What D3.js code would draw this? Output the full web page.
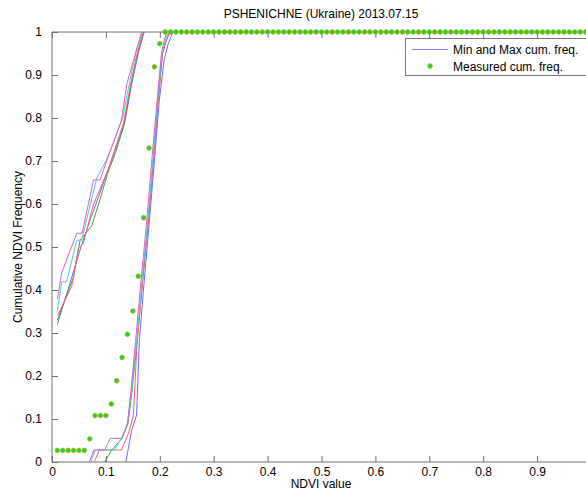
<!DOCTYPE html>
<html><head><meta charset="utf-8">
<script src="https://cdn.jsdelivr.net/npm/d3@7"></script>
<style>
html,body{margin:0;padding:0;background:#fff;overflow:hidden}
svg{display:block;font-family:"Liberation Sans",Arial,sans-serif}
</style></head>
<body>
<svg id="chart" width="586" height="492"></svg>
<script>
const title = "PSHENICHNE (Ukraine) 2013.07.15";
const xLabel = "NDVI value";
const yLabel = "Cumulative NDVI Frequency";
const legendLabels = ["Min and Max cum. freq.", "Measured cum. freq."];
const xTicks = [0,0.1,0.2,0.3,0.4,0.5,0.6,0.7,0.8,0.9];
const yTicks = [0,0.1,0.2,0.3,0.4,0.5,0.6,0.7,0.8,0.9,1];

// measured cumulative frequency at NDVI = 0.01 ... 1.00
const measuredX = d3.range(1,101).map(i => i/100);
const measuredY = [0.027,0.027,0.027,0.027,0.027,0.027,0.054,0.108,0.108,0.108,
  0.135,0.189,0.243,0.297,0.351,0.432,0.568,0.730,0.919,0.973].concat(new Array(80).fill(1));

const seriesNames = ["blue","green","red","cyan","magenta"];
const seriesColors = ["#6a6aff","#449f44","#ff6060","#4dcccc","#d862d8"];

// lower-bound group (left)
const minBlue    = [[0.01,0.32],[0.055,0.505],[0.07,0.56],[0.09,0.63],[0.11,0.70],[0.12,0.735],[0.135,0.79],[0.148,0.88],[0.16,0.95],[0.171,1]];
const minGreen   = [[0.01,0.33],[0.04,0.43],[0.052,0.515],[0.074,0.55],[0.089,0.61],[0.103,0.67],[0.118,0.72],[0.133,0.78],[0.147,0.88],[0.159,0.95],[0.17,1]];
const minRed     = [[0.01,0.34],[0.0365,0.408],[0.049,0.497],[0.058,0.508],[0.077,0.60],[0.086,0.625],[0.105,0.683],[0.12,0.74],[0.133,0.79],[0.146,0.88],[0.158,0.95],[0.169,1]];
const minCyan    = [[0.01,0.35],[0.018,0.419],[0.027,0.419],[0.046,0.516],[0.055,0.516],[0.083,0.66],[0.1,0.70],[0.115,0.745],[0.131,0.80],[0.145,0.89],[0.157,0.96],[0.168,1]];
const minMagenta = [[0.01,0.378],[0.018,0.44],[0.046,0.532],[0.056,0.532],[0.077,0.656],[0.089,0.656],[0.11,0.73],[0.129,0.795],[0.139,0.88],[0.155,0.95],[0.166,1]];

// upper-bound group (right)
const maxBlue    = [[0.137,0],[0.148,0.075],[0.157,0.109],[0.162,0.28],[0.171,0.42],[0.18,0.55],[0.19,0.70],[0.199,0.84],[0.208,0.935],[0.215,0.97],[0.224,1]];
const maxGreen   = [[0.098,0],[0.111,0.028],[0.13,0.055],[0.141,0.09],[0.148,0.16],[0.158,0.28],[0.168,0.42],[0.178,0.55],[0.188,0.70],[0.197,0.84],[0.205,0.95],[0.212,0.98],[0.219,1]];
const maxRed     = [[0.078,0],[0.088,0.028],[0.129,0.028],[0.142,0.067],[0.151,0.109],[0.158,0.28],[0.168,0.42],[0.178,0.55],[0.188,0.70],[0.197,0.84],[0.205,0.95],[0.212,0.98],[0.218,1]];
const maxCyan    = [[0.072,0],[0.08,0.028],[0.115,0.028],[0.129,0.055],[0.14,0.09],[0.147,0.16],[0.157,0.28],[0.167,0.42],[0.177,0.55],[0.187,0.70],[0.196,0.84],[0.204,0.95],[0.21,0.98],[0.216,1]];
const maxMagenta = [[0.069,0],[0.078,0.028],[0.098,0.028],[0.108,0.055],[0.129,0.055],[0.14,0.086],[0.146,0.16],[0.155,0.28],[0.165,0.42],[0.175,0.55],[0.185,0.70],[0.195,0.84],[0.203,0.95],[0.208,0.98],[0.213,1]];

const minSeries = [minBlue,minGreen,minRed,minCyan,minMagenta];
const maxSeries = [maxBlue,maxGreen,maxRed,maxCyan,maxMagenta];

const svg = d3.select("#chart");
const x = d3.scaleLinear().domain([0,1]).range([52,591]);
const y = d3.scaleLinear().domain([0,1]).range([462,32]);
const axisColor = "#6e6e6e";

// axes box lines
svg.append("line").attr("x1",52).attr("x2",591).attr("y1",462).attr("y2",462).attr("stroke",axisColor);
svg.append("line").attr("x1",52).attr("x2",591).attr("y1",32).attr("y2",32).attr("stroke",axisColor);
svg.append("line").attr("x1",52).attr("x2",52).attr("y1",32).attr("y2",462).attr("stroke",axisColor);

const fmt = d => d === 0 ? "0" : d === 1 ? "1" : d3.format(".1f")(d);

const xb = svg.append("g").attr("transform","translate(0,462)")
  .call(d3.axisBottom(x).tickValues(xTicks).tickFormat(fmt).tickSize(-6).tickPadding(5));
const xt = svg.append("g").attr("transform","translate(0,32)")
  .call(d3.axisTop(x).tickValues(xTicks).tickFormat("").tickSize(-6));
const yl = svg.append("g").attr("transform","translate(52,0)")
  .call(d3.axisLeft(y).tickValues(yTicks).tickFormat(fmt).tickSize(-6).tickPadding(10));
[xb,xt,yl].forEach(g => {
  g.select(".domain").remove();
  g.selectAll(".tick line").attr("stroke",axisColor);
  g.selectAll(".tick text").attr("fill","#000").style("font-size","12px").style("font-family","Liberation Sans, Arial, sans-serif");
});

const line = d3.line().x(d => x(d[0])).y(d => y(d[1]));
const plot = svg.append("g");
minSeries.forEach((s,i) => plot.append("path").attr("d",line(s)).attr("fill","none")
  .attr("stroke",seriesColors[i]).attr("stroke-width",1));
maxSeries.forEach((s,i) => plot.append("path").attr("d",line(s)).attr("fill","none")
  .attr("stroke",seriesColors[i]).attr("stroke-width",1));

plot.selectAll("circle.m").data(measuredX.map((v,i) => [v, measuredY[i]])).enter()
  .append("circle").attr("class","m")
  .attr("cx",d => x(d[0])).attr("cy",d => y(d[1])).attr("r",2.4)
  .attr("fill","#10e010").attr("stroke","#f09050").attr("stroke-width",0.7);

// title and labels
svg.append("text").attr("x",321).attr("y",18).attr("text-anchor","middle")
  .style("font-size","12px").text(title);
svg.append("text").attr("x",321).attr("y",488).attr("text-anchor","middle")
  .style("font-size","12px").text(xLabel);
svg.append("text").attr("transform","translate(22,247) rotate(-90)").attr("text-anchor","middle")
  .style("font-size","12px").text(yLabel);

// legend
const lg = svg.append("g");
lg.append("rect").attr("x",405.5).attr("y",38.5).attr("width",190).attr("height",37)
  .attr("fill","#fff").attr("stroke","#777");
lg.append("line").attr("x1",412).attr("x2",448).attr("y1",49.5).attr("y2",49.5)
  .attr("stroke","#8080ff").attr("stroke-width",1);
lg.append("circle").attr("cx",430).attr("cy",66).attr("r",2.4)
  .attr("fill","#10e010").attr("stroke","#f09050").attr("stroke-width",0.7);
lg.selectAll("text.l").data(legendLabels).enter().append("text").attr("class","l")
  .attr("x",453).attr("y",(d,i) => 54 + i*17).style("font-size","12px").text(d => d);
</script>
</body></html>
